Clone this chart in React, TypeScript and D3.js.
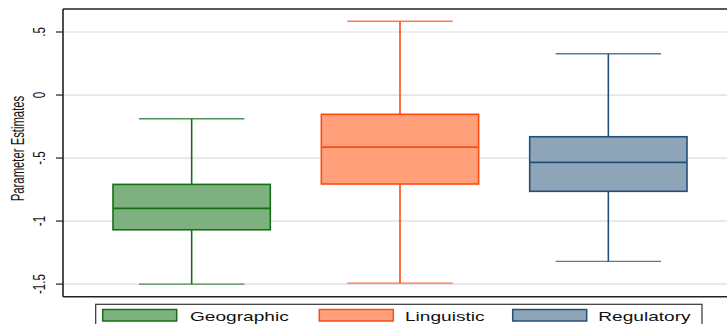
import React from "react";
import * as d3 from "d3";

const categories = ["Geographic", "Linguistic", "Regulatory"];
const whiskerLow = [-1.5, -1.492, -1.32];
const q1 = [-1.069, -0.706, -0.764];
const median = [-0.899, -0.413, -0.534];
const q3 = [-0.709, -0.153, -0.331];
const whiskerHigh = [-0.188, 0.585, 0.328];
const yTickValues = [0.5, 0, -0.5, -1, -1.5];
const yTickLabels = [".5", "0", "-.5", "-1", "-1.5"];
const fills = ["#7fb07f", "#ffa07a", "#8da4b9"];
const strokes = ["#137013", "#ff4a10", "#264f78"];
const yTitle = "Parameter Estimates";

const W = 727;
const H = 324;
const left = 63;
const top = 9;
const bottom = 296.7;

export default function App() {
  const y = d3.scaleLinear().domain([-1.6, 0.6825]).range([bottom, top]);
  const x = d3
    .scaleBand<string>()
    .domain(categories)
    .range([left, 737])
    .paddingInner(0.245)
    .paddingOuter(0.24);
  const bw = x.bandwidth();
  const capW = bw * 0.67;
  const font = "'Liberation Sans', Arial, Helvetica, sans-serif";
  const sx = 1.47;

  const legendItems = [
    { sw: 102.7, tx: 190 },
    { sw: 319.3, tx: 405 },
    { sw: 512.7, tx: 598.3 },
  ];

  return (
    <svg
      width={W}
      height={H}
      style={{ position: "absolute", left: 0, top: 0, background: "#fff" }}
    >
      <rect x={0} y={0} width={W} height={H} fill="#fff" />
      {yTickValues.map((v, i) => (
        <line
          key={"g" + i}
          x1={left}
          x2={W}
          y1={y(v)}
          y2={y(v)}
          stroke="#dcdcdc"
          strokeWidth={1.2}
        />
      ))}
      {categories.map((c, i) => {
        const x0 = x(c) as number;
        const cx = x0 + bw / 2;
        return (
          <g key={c}>
            <line x1={cx} x2={cx} y1={y(whiskerHigh[i])} y2={y(q3[i])} stroke={strokes[i]} strokeWidth={1.6} />
            <line x1={cx} x2={cx} y1={y(q1[i])} y2={y(whiskerLow[i])} stroke={strokes[i]} strokeWidth={1.6} />
            <line x1={cx - capW / 2} x2={cx + capW / 2} y1={y(whiskerHigh[i])} y2={y(whiskerHigh[i])} stroke={strokes[i]} strokeWidth={1.4} strokeOpacity={0.75} />
            <line x1={cx - capW / 2} x2={cx + capW / 2} y1={y(whiskerLow[i])} y2={y(whiskerLow[i])} stroke={strokes[i]} strokeWidth={1.4} strokeOpacity={0.75} />
            <rect
              x={x0}
              y={y(q3[i])}
              width={bw}
              height={y(q1[i]) - y(q3[i])}
              fill={fills[i]}
              stroke={strokes[i]}
              strokeWidth={1.6}
            />
            <line x1={x0} x2={x0 + bw} y1={y(median[i])} y2={y(median[i])} stroke={strokes[i]} strokeWidth={1.6} />
          </g>
        );
      })}
      <line x1={left} x2={W} y1={top} y2={top} stroke="#222" strokeWidth={1.6} />
      <line x1={left} x2={W} y1={bottom} y2={bottom} stroke="#222" strokeWidth={1.6} />
      <line x1={left} x2={left} y1={top} y2={bottom} stroke="#222" strokeWidth={1.6} />
      {yTickValues.map((v, i) => (
        <g key={"t" + i}>
          <line x1={left - 7} x2={left} y1={y(v)} y2={y(v)} stroke="#222" strokeWidth={1.2} />
          <text
            transform={`translate(45, ${y(v)}) scale(${sx}, 1) rotate(-90)`}
            textAnchor="middle"
            fontFamily={font}
            fontSize={11.5}
            fill="#111"
          >
            {yTickLabels[i]}
          </text>
        </g>
      ))}
      <text
        transform={`translate(24, 148.5) scale(1.6, 1) rotate(-90)`}
        textAnchor="middle"
        fontFamily={font}
        fontSize={11.3}
        fill="#111"
      >
        {yTitle}
      </text>
      <rect x={95.7} y={304.3} width={702 - 95.7} height={40} fill="#fff" stroke="#333" strokeWidth={1.2} />
      {categories.map((c, i) => (
        <g key={"l" + c}>
          <rect
            x={legendItems[i].sw}
            y={309.5}
            width={74}
            height={11.5}
            fill={fills[i]}
            stroke={strokes[i]}
            strokeWidth={1.5}
          />
          <text
            transform={`translate(${legendItems[i].tx}, 320.7) scale(${sx}, 1)`}
            fontFamily={font}
            fontSize={13}
            fill="#111"
          >
            {c}
          </text>
        </g>
      ))}
    </svg>
  );
}
